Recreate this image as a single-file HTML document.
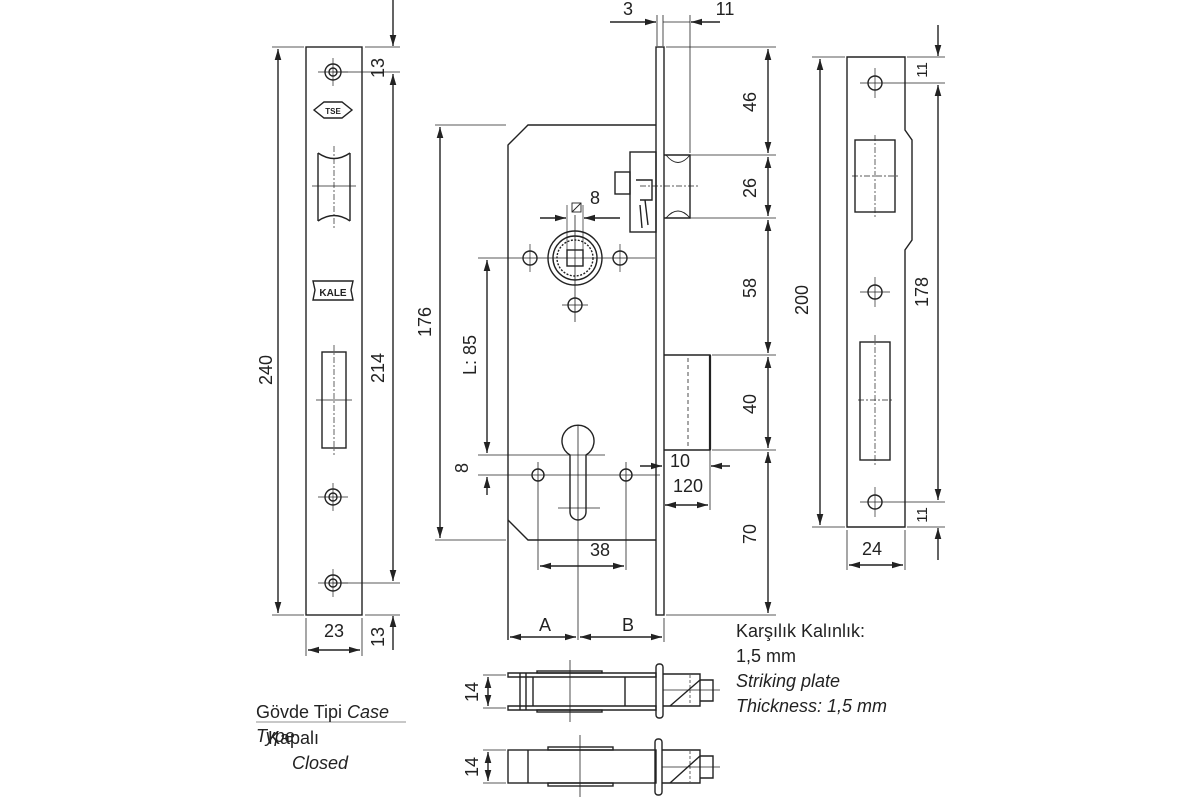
<!DOCTYPE html>
<html><head><meta charset="utf-8"><style>
html,body{margin:0;padding:0;background:#fff}
svg{display:block}
text{font-family:"Liberation Sans",sans-serif;fill:#222}
</style></head><body>
<svg width="1200" height="800" viewBox="0 0 1200 800" xmlns="http://www.w3.org/2000/svg">
<defs>
<marker id="a" viewBox="0 0 10 10" refX="10" refY="5" markerWidth="8" markerHeight="8" orient="auto-start-reverse"><path d="M0,2 L10,5 L0,8 z" fill="#222"/></marker>
</defs>
<g stroke="#222" stroke-width="1.4" fill="none">
<rect x="306" y="47" width="56" height="568"/>
<line x1="272" y1="47" x2="304" y2="47" stroke-width=".8"/>
<line x1="272" y1="615" x2="304" y2="615" stroke-width=".8"/>
<line x1="278" y1="49" x2="278" y2="613" marker-start="url(#a)" marker-end="url(#a)"/>
<line x1="365" y1="47" x2="400" y2="47" stroke-width=".8"/>
<line x1="365" y1="615" x2="400" y2="615" stroke-width=".8"/>
<line x1="333" y1="72" x2="400" y2="72" stroke-width=".8"/>
<line x1="333" y1="583" x2="400" y2="583" stroke-width=".8"/>
<line x1="393" y1="74" x2="393" y2="581" marker-start="url(#a)" marker-end="url(#a)"/>
<line x1="393" y1="0" x2="393" y2="46" marker-end="url(#a)"/>
<line x1="393" y1="650" x2="393" y2="616" marker-end="url(#a)"/>
<line x1="306" y1="618" x2="306" y2="656" stroke-width=".8"/>
<line x1="362" y1="618" x2="362" y2="656" stroke-width=".8"/>
<line x1="308" y1="650" x2="360" y2="650" marker-start="url(#a)" marker-end="url(#a)"/>
<g>
<circle cx="333" cy="72" r="8"/><circle cx="333" cy="72" r="4"/>
<line x1="318" y1="72" x2="348" y2="72" stroke-width=".7"/><line x1="333" y1="58" x2="333" y2="86" stroke-width=".7"/>
<circle cx="333" cy="497" r="8"/><circle cx="333" cy="497" r="4"/>
<line x1="318" y1="497" x2="348" y2="497" stroke-width=".7"/><line x1="333" y1="483" x2="333" y2="511" stroke-width=".7"/>
<circle cx="333" cy="583" r="8"/><circle cx="333" cy="583" r="4"/>
<line x1="318" y1="583" x2="348" y2="583" stroke-width=".7"/><line x1="333" y1="569" x2="333" y2="597" stroke-width=".7"/>
</g>
<path d="M314,110 L324,102 L342,102 L352,110 L342,118 L324,118 Z"/>
<path d="M318,153 Q334,164 350,153 M318,221 Q334,210 350,221"/>
<line x1="318" y1="153" x2="318" y2="221"/><line x1="350" y1="153" x2="350" y2="221"/>
<line x1="312" y1="186" x2="356" y2="186" stroke-width=".7"/>
<line x1="334" y1="146" x2="334" y2="228" stroke-width=".7" stroke-dasharray="6 2 2 2"/>
<path d="M313,281 L353,281 L351,290 L353,300 L313,300 L315,290 Z"/>
<rect x="322" y="352" width="24" height="96"/>
<line x1="334" y1="345" x2="334" y2="455" stroke-width=".7" stroke-dasharray="6 2 2 2"/>
<line x1="316" y1="400" x2="352" y2="400" stroke-width=".7"/>
<path d="M656,125 L528,125 L508,145 L508,640"/>
<path d="M508,520 L528,540 L656,540"/>
<rect x="656" y="47" width="8" height="568"/>
<line x1="435" y1="125" x2="506" y2="125" stroke-width=".8"/>
<line x1="435" y1="540" x2="506" y2="540" stroke-width=".8"/>
<line x1="440" y1="127" x2="440" y2="538" marker-start="url(#a)" marker-end="url(#a)"/>
<circle cx="575" cy="258" r="27"/><circle cx="575" cy="258" r="22"/><circle cx="575" cy="258" r="18" stroke-dasharray="2 1.5"/>
<rect x="567" y="250" width="16" height="16"/>
<line x1="478" y1="258" x2="655" y2="258" stroke-width=".8"/>
<line x1="575" y1="215" x2="575" y2="322" stroke-width=".8"/>
<circle cx="530" cy="258" r="7"/><circle cx="620" cy="258" r="7"/><circle cx="575" cy="305" r="7"/>
<line x1="530" y1="244" x2="530" y2="272" stroke-width=".7"/><line x1="620" y1="244" x2="620" y2="272" stroke-width=".7"/>
<line x1="562" y1="305" x2="588" y2="305" stroke-width=".7"/>
<line x1="567" y1="205" x2="567" y2="250" stroke-width=".7"/><line x1="583" y1="205" x2="583" y2="250" stroke-width=".7"/>
<line x1="540" y1="218" x2="566" y2="218" marker-end="url(#a)"/><line x1="620" y1="218" x2="584" y2="218" marker-end="url(#a)"/>
<rect x="572" y="203" width="9" height="9" stroke-width=".9"/><line x1="572" y1="212" x2="581" y2="203" stroke-width=".9"/>
<rect x="630" y="152" width="26" height="80"/>
<rect x="615" y="172" width="15" height="22"/>
<path d="M636,180 L652,180 L652,200 L640,200 M645,200 L648,225 M640,205 L642,228"/>
<path d="M664,155 L690,155 L690,218 L664,218"/>
<path d="M666,155 Q678,170 690,155 M666,218 Q678,204 690,218" stroke-width=".9"/>
<line x1="640" y1="186" x2="700" y2="186" stroke-width=".7" stroke-dasharray="6 2 2 2"/>
<path d="M664,355 L710,355 L710,450 L664,450"/>
<line x1="710" y1="355" x2="710" y2="450" stroke-width="2.2"/>
<line x1="688" y1="358" x2="688" y2="448" stroke-dasharray="4 3" stroke-width=".8"/>
<line x1="478" y1="455" x2="605" y2="455" stroke-width=".8"/>
<line x1="478" y1="475" x2="660" y2="475" stroke-width=".8"/>
<line x1="487" y1="260" x2="487" y2="453" marker-start="url(#a)" marker-end="url(#a)"/>
<line x1="487" y1="495" x2="487" y2="477" marker-end="url(#a)"/>
<path d="M570,455 A16,16 0 1 1 586,455 L586,512 A8,8 0 0 1 570,512 Z"/>
<line x1="578" y1="425" x2="578" y2="640" stroke-width=".8"/>
<line x1="558" y1="508" x2="600" y2="508" stroke-width=".8"/>
<circle cx="538" cy="475" r="6"/><circle cx="626" cy="475" r="6"/>
<line x1="538" y1="462" x2="538" y2="570" stroke-width=".8"/><line x1="626" y1="462" x2="626" y2="570" stroke-width=".8"/>
<line x1="540" y1="566" x2="624" y2="566" marker-start="url(#a)" marker-end="url(#a)"/>
<line x1="510" y1="637" x2="576" y2="637" marker-start="url(#a)" marker-end="url(#a)"/>
<line x1="580" y1="637" x2="662" y2="637" marker-start="url(#a)" marker-end="url(#a)"/>
<line x1="664" y1="618" x2="664" y2="642" stroke-width=".8"/>
<g stroke-width=".8">
<line x1="666" y1="47" x2="776" y2="47"/><line x1="690" y1="155" x2="776" y2="155"/>
<line x1="690" y1="218" x2="776" y2="218"/><line x1="712" y1="355" x2="776" y2="355"/>
<line x1="712" y1="450" x2="776" y2="450"/><line x1="666" y1="615" x2="776" y2="615"/>
</g>
<line x1="768" y1="49" x2="768" y2="153" marker-start="url(#a)" marker-end="url(#a)"/>
<line x1="768" y1="157" x2="768" y2="216" marker-start="url(#a)" marker-end="url(#a)"/>
<line x1="768" y1="220" x2="768" y2="353" marker-start="url(#a)" marker-end="url(#a)"/>
<line x1="768" y1="357" x2="768" y2="448" marker-start="url(#a)" marker-end="url(#a)"/>
<line x1="768" y1="452" x2="768" y2="613" marker-start="url(#a)" marker-end="url(#a)"/>
<line x1="657" y1="15" x2="657" y2="46" stroke-width=".8"/><line x1="663" y1="15" x2="663" y2="46" stroke-width=".8"/>
<line x1="690" y1="15" x2="690" y2="153" stroke-width=".8"/>
<line x1="610" y1="22" x2="656" y2="22" marker-end="url(#a)"/>
<line x1="720" y1="22" x2="691" y2="22" marker-end="url(#a)"/>
<line x1="663" y1="22" x2="690" y2="22" stroke-width=".8"/>
<line x1="640" y1="466" x2="662" y2="466" marker-end="url(#a)"/>
<line x1="730" y1="466" x2="711" y2="466" marker-end="url(#a)"/>
<line x1="710" y1="450" x2="710" y2="510" stroke-width=".8"/>
<line x1="665" y1="505" x2="708" y2="505" marker-start="url(#a)" marker-end="url(#a)"/>
<path d="M847,57 L905,57 L905,130 L912,140 L912,240 L905,250 L905,527 L847,527 Z"/>
<circle cx="875" cy="83" r="7"/><circle cx="875" cy="292" r="7"/><circle cx="875" cy="502" r="7"/>
<line x1="860" y1="83" x2="945" y2="83" stroke-width=".8"/><line x1="860" y1="502" x2="945" y2="502" stroke-width=".8"/>
<line x1="860" y1="292" x2="890" y2="292" stroke-width=".7"/>
<line x1="875" y1="68" x2="875" y2="98" stroke-width=".7"/><line x1="875" y1="277" x2="875" y2="307" stroke-width=".7"/><line x1="875" y1="487" x2="875" y2="517" stroke-width=".7"/>
<rect x="855" y="140" width="40" height="72"/>
<rect x="860" y="342" width="30" height="118"/>
<line x1="875" y1="135" x2="875" y2="218" stroke-width=".7" stroke-dasharray="6 2 2 2"/>
<line x1="875" y1="335" x2="875" y2="465" stroke-width=".7" stroke-dasharray="6 2 2 2"/>
<line x1="852" y1="176" x2="898" y2="176" stroke-width=".7" stroke-dasharray="6 2 2 2"/>
<line x1="858" y1="400" x2="892" y2="400" stroke-width=".7" stroke-dasharray="6 2 2 2"/>
<line x1="812" y1="57" x2="845" y2="57" stroke-width=".8"/><line x1="812" y1="527" x2="845" y2="527" stroke-width=".8"/>
<line x1="820" y1="59" x2="820" y2="525" marker-start="url(#a)" marker-end="url(#a)"/>
<line x1="907" y1="57" x2="945" y2="57" stroke-width=".8"/><line x1="907" y1="527" x2="945" y2="527" stroke-width=".8"/>
<line x1="938" y1="85" x2="938" y2="500" marker-start="url(#a)" marker-end="url(#a)"/>
<line x1="938" y1="25" x2="938" y2="56" marker-end="url(#a)"/>
<line x1="938" y1="560" x2="938" y2="528" marker-end="url(#a)"/>
<line x1="847" y1="530" x2="847" y2="570" stroke-width=".8"/><line x1="905" y1="530" x2="905" y2="570" stroke-width=".8"/>
<line x1="849" y1="565" x2="903" y2="565" marker-start="url(#a)" marker-end="url(#a)"/>
<path d="M508,673 L656,673 L656,677 L508,677 Z M508,706 L656,706 L656,710 L508,710 Z"/>
<line x1="520" y1="673" x2="520" y2="710"/><line x1="526" y1="673" x2="526" y2="710"/>
<line x1="533" y1="677" x2="533" y2="706"/><line x1="625" y1="677" x2="625" y2="706"/>
<rect x="537" y="671" width="65" height="2"/><rect x="537" y="710" width="65" height="2"/>
<line x1="570" y1="660" x2="570" y2="722" stroke-width=".8"/>
<rect x="656" y="664" width="7" height="54" rx="3"/>
<path d="M663,674 L700,674 L700,706 L663,706"/>
<path d="M700,680 L713,680 L713,701 L700,701"/><line x1="700" y1="680" x2="670" y2="706"/>
<line x1="690" y1="675" x2="690" y2="705" stroke-dasharray="3 2" stroke-width=".7"/>
<line x1="663" y1="690" x2="720" y2="690" stroke-width=".7"/>
<line x1="483" y1="675" x2="506" y2="675" stroke-width=".8"/><line x1="483" y1="708" x2="506" y2="708" stroke-width=".8"/>
<line x1="488" y1="677" x2="488" y2="706" marker-start="url(#a)" marker-end="url(#a)"/>
<rect x="508" y="750" width="148" height="33"/>
<line x1="528" y1="750" x2="528" y2="783"/>
<rect x="548" y="747" width="65" height="3"/><rect x="548" y="783" width="65" height="3"/>
<line x1="580" y1="735" x2="580" y2="797" stroke-width=".8"/>
<rect x="655" y="739" width="7" height="56" rx="3"/>
<path d="M662,750 L700,750 L700,783 L662,783"/>
<path d="M700,756 L713,756 L713,778 L700,778"/><line x1="700" y1="756" x2="670" y2="783"/>
<line x1="690" y1="751" x2="690" y2="782" stroke-dasharray="3 2" stroke-width=".7"/>
<line x1="662" y1="767" x2="720" y2="767" stroke-width=".7"/>
<line x1="483" y1="750" x2="506" y2="750" stroke-width=".8"/><line x1="483" y1="783" x2="506" y2="783" stroke-width=".8"/>
<line x1="488" y1="752" x2="488" y2="781" marker-start="url(#a)" marker-end="url(#a)"/>
<line x1="256" y1="722" x2="406" y2="722" stroke-width=".6"/>
</g>
<g font-size="18">
<text x="333" y="114" font-size="8" text-anchor="middle" font-weight="bold">TSE</text>
<text x="333" y="296" font-size="10" text-anchor="middle" font-weight="bold">KALE</text>
<text transform="translate(272,370) rotate(-90)" text-anchor="middle">240</text>
<text transform="translate(384,368) rotate(-90)" text-anchor="middle">214</text>
<text transform="translate(384,68) rotate(-90)" text-anchor="middle">13</text>
<text transform="translate(384,637) rotate(-90)" text-anchor="middle">13</text>
<text x="334" y="637" text-anchor="middle">23</text>
<text transform="translate(431,322) rotate(-90)" text-anchor="middle">176</text>
<text transform="translate(476,355) rotate(-90)" text-anchor="middle">L: 85</text>
<text transform="translate(468,468) rotate(-90)" text-anchor="middle">8</text>
<text x="595" y="204" text-anchor="middle">8</text>
<text x="600" y="556" text-anchor="middle">38</text>
<text x="545" y="631" text-anchor="middle">A</text>
<text x="628" y="631" text-anchor="middle">B</text>
<text x="628" y="15" text-anchor="middle">3</text>
<text x="725" y="15" text-anchor="middle">11</text>
<text transform="translate(756,102) rotate(-90)" text-anchor="middle">46</text>
<text transform="translate(756,188) rotate(-90)" text-anchor="middle">26</text>
<text transform="translate(756,288) rotate(-90)" text-anchor="middle">58</text>
<text transform="translate(756,404) rotate(-90)" text-anchor="middle">40</text>
<text transform="translate(756,534) rotate(-90)" text-anchor="middle">70</text>
<text x="680" y="467" text-anchor="middle">10</text>
<text x="688" y="492" text-anchor="middle">120</text>
<text transform="translate(808,300) rotate(-90)" text-anchor="middle">200</text>
<text transform="translate(928,292) rotate(-90)" text-anchor="middle">178</text>
<text transform="translate(927,70) rotate(-90)" text-anchor="middle" font-size="15">11</text>
<text transform="translate(927,515) rotate(-90)" text-anchor="middle" font-size="15">11</text>
<text x="872" y="555" text-anchor="middle">24</text>
<text transform="translate(478,692) rotate(-90)" text-anchor="middle">14</text>
<text transform="translate(478,767) rotate(-90)" text-anchor="middle">14</text>
<text x="736" y="637">Karşılık Kalınlık:</text>
<text x="736" y="662">1,5 mm</text>
<text x="736" y="687" font-style="italic">Striking plate</text>
<text x="736" y="712" font-style="italic">Thickness: 1,5 mm</text>
<text x="256" y="718">Gövde Tipi <tspan font-style="italic">Case</tspan></text>
<text x="256" y="742" font-style="italic">Type</text>
<text x="268" y="744">Kapalı</text>
<text x="292" y="769" font-style="italic">Closed</text>
</g>
</svg>
</body></html>
